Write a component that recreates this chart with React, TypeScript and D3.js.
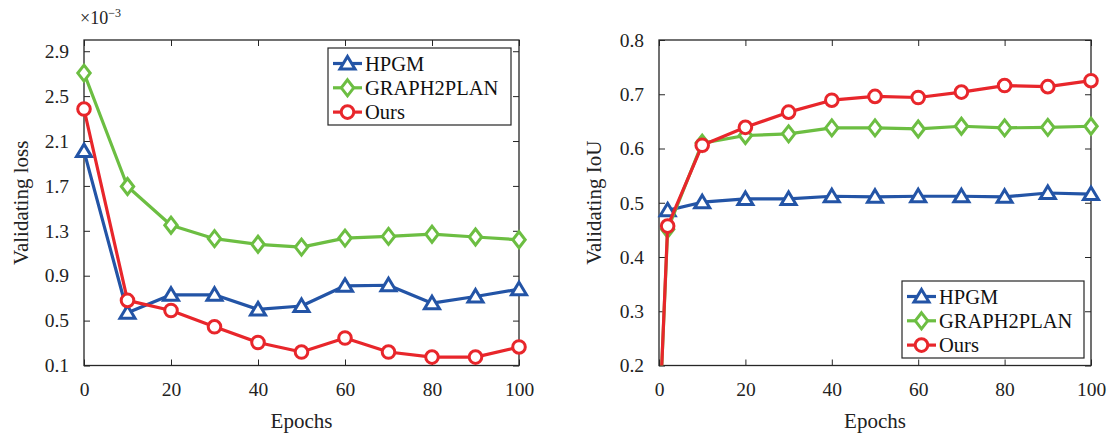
import React, { useEffect, useRef } from "react";
import * as d3 from "d3";

const W = 1115, H = 436;
const FONT = '"Liberation Serif", "Times New Roman", serif';
const AXIS_COLOR = "#262626";

// series
const seriesNames = ["HPGM", "GRAPH2PLAN", "Ours"];
const seriesColors = ["#2354a6", "#6cbe42", "#e8262b"];
const seriesMarkers = ["triangle", "diamond", "circle"];

// left: validating loss (x1e-3)
const lossEpochs = [0, 10, 20, 30, 40, 50, 60, 70, 80, 90, 100];
const lossHPGM = [2.01, 0.57, 0.73, 0.73, 0.6, 0.63, 0.81, 0.815, 0.655, 0.715, 0.78];
const lossG2P = [2.705, 1.695, 1.35, 1.23, 1.18, 1.155, 1.235, 1.25, 1.27, 1.245, 1.22];
const lossOurs = [2.385, 0.68, 0.59, 0.445, 0.305, 0.22, 0.345, 0.22, 0.175, 0.175, 0.265];
const lossTicks = [0.1, 0.5, 0.9, 1.3, 1.7, 2.1, 2.5, 2.9];

// right: validating IoU
const iouEpochsHPGM = [2, 10, 20, 30, 40, 50, 60, 70, 80, 90, 100];
const iouHPGM = [0.486, 0.501, 0.507, 0.507, 0.512, 0.511, 0.512, 0.512, 0.511, 0.518, 0.516];
const iouEpochs = [0, 2, 10, 20, 30, 40, 50, 60, 70, 80, 90, 100];
const iouG2P = [0.08, 0.451, 0.61, 0.624, 0.627, 0.638, 0.638, 0.636, 0.641, 0.638, 0.639, 0.641];
const iouOurs = [0.08, 0.457, 0.606, 0.639, 0.667, 0.689, 0.696, 0.694, 0.704, 0.716, 0.714, 0.725];
const iouTicks = [0.2, 0.3, 0.4, 0.5, 0.6, 0.7, 0.8];

const epochTicks = [0, 20, 40, 60, 80, 100];

function markerPath(kind) {
  if (kind == "triangle") return "M0,-7 L7.5,5.5 L-7.5,5.5 Z";
  if (kind == "diamond") return "M0,-8 L6.2,0 L0,8 L-6.2,0 Z";
  return d3.arc()({ innerRadius: 0, outerRadius: 6.3, startAngle: 0, endAngle: 2 * Math.PI });
}

function drawPanel(svg, cfg) {
  var x = d3.scaleLinear().domain([0, 100]).range([cfg.x0, cfg.x1]);
  var y = d3.scaleLinear().domain(cfg.yDomain).range([cfg.y1, cfg.y0]);
  var g = svg.append("g");

  var clipId = "clip-" + cfg.id;
  svg.append("defs").append("clipPath").attr("id", clipId)
    .append("rect")
    .attr("x", cfg.x0).attr("y", cfg.y0)
    .attr("width", cfg.x1 - cfg.x0).attr("height", cfg.y1 - cfg.y0);

  // ticks (inward, all four sides)
  var styleAxis = function (a) {
    a.select(".domain").remove();
    a.selectAll(".tick line").attr("stroke", AXIS_COLOR).attr("stroke-width", 1);
    a.selectAll("text").attr("font-family", FONT).attr("font-size", 19.5).attr("fill", "#222");
  };
  g.append("g").attr("transform", "translate(0," + cfg.y1 + ")")
    .call(d3.axisBottom(x).tickValues(epochTicks).tickFormat(d3.format("d")).tickSizeInner(-6).tickSizeOuter(0).tickPadding(17))
    .call(styleAxis);
  g.append("g").attr("transform", "translate(0," + cfg.y0 + ")")
    .call(d3.axisTop(x).tickValues(epochTicks).tickFormat(() => "").tickSizeInner(-6).tickSizeOuter(0))
    .call(styleAxis);
  g.append("g").attr("transform", "translate(" + cfg.x0 + ",0)")
    .call(d3.axisLeft(y).tickValues(cfg.yTicks).tickFormat(d3.format(".1f")).tickSizeInner(-6).tickSizeOuter(0).tickPadding(15))
    .call(styleAxis);
  g.append("g").attr("transform", "translate(" + cfg.x1 + ",0)")
    .call(d3.axisRight(y).tickValues(cfg.yTicks).tickFormat(() => "").tickSizeInner(-6).tickSizeOuter(0))
    .call(styleAxis);

  g.append("rect")
    .attr("x", cfg.x0).attr("y", cfg.y0)
    .attr("width", cfg.x1 - cfg.x0).attr("height", cfg.y1 - cfg.y0)
    .attr("fill", "none").attr("stroke", AXIS_COLOR).attr("stroke-width", 1.3);

  // lines + markers
  var line = d3.line().x(d => x(d[0])).y(d => y(d[1]));
  cfg.series.forEach(function (s, i) {
    var pts = d3.zip(s.xs, s.ys);
    g.append("path").datum(pts)
      .attr("d", line)
      .attr("fill", "none")
      .attr("stroke", seriesColors[i])
      .attr("stroke-width", 3.2)
      .attr("stroke-linejoin", "round")
      .attr("clip-path", "url(#" + clipId + ")");
    var inside = pts.filter(p => p[1] >= cfg.yDomain[0] && p[1] <= cfg.yDomain[1]);
    g.selectAll(null).data(inside).enter().append("path")
      .attr("d", markerPath(seriesMarkers[i]))
      .attr("transform", p => "translate(" + x(p[0]) + "," + y(p[1]) + ")")
      .attr("fill", "white")
      .attr("stroke", seriesColors[i])
      .attr("stroke-width", 3);
  });

  // legend
  var lg = cfg.legend;
  g.append("rect")
    .attr("x", lg.x).attr("y", lg.y).attr("width", lg.w).attr("height", lg.h)
    .attr("fill", "white").attr("stroke", AXIS_COLOR).attr("stroke-width", 1.2);
  seriesNames.forEach(function (name, i) {
    var ry = lg.y + 15.5 + i * 24.3;
    g.append("line")
      .attr("x1", lg.x + 5).attr("x2", lg.x + 34).attr("y1", ry).attr("y2", ry)
      .attr("stroke", seriesColors[i]).attr("stroke-width", 3.2);
    g.append("path")
      .attr("d", markerPath(seriesMarkers[i]))
      .attr("transform", "translate(" + (lg.x + 19.5) + "," + ry + ")")
      .attr("fill", "white").attr("stroke", seriesColors[i]).attr("stroke-width", 3);
    g.append("text")
      .attr("x", lg.x + 37).attr("y", ry + 7)
      .attr("font-family", FONT).attr("font-size", 20.5).attr("fill", "#111")
      .text(name);
  });

  // axis labels
  g.append("text")
    .attr("x", (cfg.x0 + cfg.x1) / 2).attr("y", 428)
    .attr("text-anchor", "middle")
    .attr("font-family", FONT).attr("font-size", 21).attr("fill", "#222")
    .text("Epochs");
  g.append("text")
    .attr("transform", "translate(" + cfg.ylabelX + "," + (cfg.y0 + cfg.y1) / 2 + ") rotate(-90)")
    .attr("text-anchor", "middle")
    .attr("font-family", FONT).attr("font-size", 21).attr("fill", "#222")
    .text(cfg.ylabel);
}

export default function App() {
  const ref = useRef(null);

  useEffect(() => {
    var svg = d3.select(ref.current);
    svg.selectAll("*").remove();

    drawPanel(svg, {
      id: "loss", x0: 84, x1: 519, y0: 40, y1: 365.5,
      yDomain: [0.1, 3.0], yTicks: lossTicks,
      ylabel: "Validating loss", ylabelX: 28,
      series: [
        { xs: lossEpochs, ys: lossHPGM },
        { xs: lossEpochs, ys: lossG2P },
        { xs: lossEpochs, ys: lossOurs },
      ],
      legend: { x: 328, y: 48, w: 183, h: 77 },
    });

    drawPanel(svg, {
      id: "iou", x0: 659, x1: 1091, y0: 40, y1: 365.5,
      yDomain: [0.2, 0.8], yTicks: iouTicks,
      ylabel: "Validating IoU", ylabelX: 601,
      series: [
        { xs: iouEpochsHPGM, ys: iouHPGM },
        { xs: iouEpochs, ys: iouG2P },
        { xs: iouEpochs, ys: iouOurs },
      ],
      legend: { x: 902, y: 281, w: 182, h: 77 },
    });

    // exponent label
    var t = svg.append("text")
      .attr("x", 80).attr("y", 24)
      .attr("font-family", FONT).attr("font-size", 18).attr("fill", "#222");
    t.append("tspan").text("\u00d710");
    t.append("tspan").attr("dy", -7).attr("font-size", 12).text("\u22123");
  }, []);

  return (
    <svg ref={ref} width={W} height={H}
      style={{ position: "absolute", left: 0, top: 0, background: "white" }} />
  );
}
